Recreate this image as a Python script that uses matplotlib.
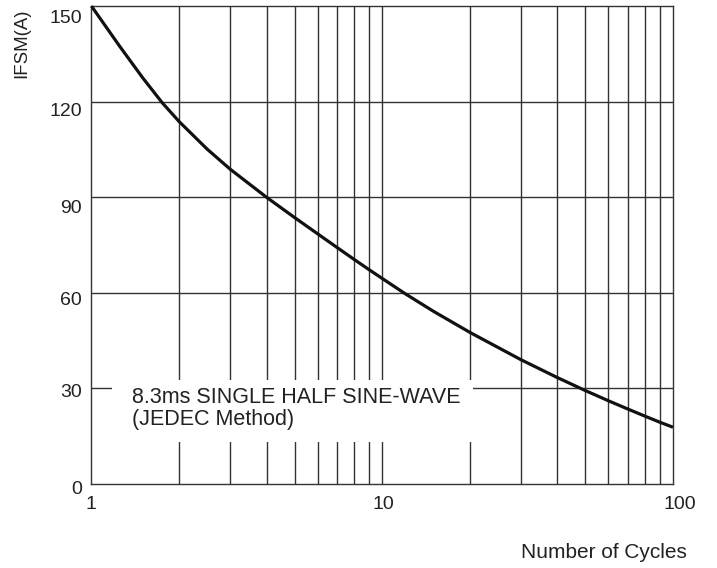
import matplotlib
matplotlib.use("Agg")
import matplotlib.pyplot as plt
import matplotlib.transforms as mtransforms
from matplotlib.patches import Rectangle

plt.rcParams['font.family'] = ['Liberation Sans', 'DejaVu Sans']

cycles = [1, 1.25, 1.5, 1.75, 2, 2.5, 3, 4, 5, 6, 7, 8, 9, 10, 12, 15, 20,
          30, 40, 50, 60, 70, 80, 90, 100]
ifsm = [150, 137.4, 127.5, 119.7, 113.8, 105.1, 98.8, 90.0, 83.6, 78.5, 74.2,
        70.5, 67.3, 64.5, 59.7, 54.2, 47.6, 39.0, 33.4, 29.3, 26.1, 23.5,
        21.3, 19.4, 17.8]

y_ticks = [0, 30, 60, 90, 120, 150]
x_ticks = [1, 10, 100]
x_ticklabels = ["1", "10", "100"]
x_grid = [2, 3, 4, 5, 6, 7, 8, 9, 10, 20, 30, 40, 50, 60, 70, 80, 90]
y_grid = [30, 60, 90, 120]
note = "8.3ms SINGLE HALF SINE-WAVE\n(JEDEC Method)"

grid_c = '#333333'
txt_c = '#222222'
fig = plt.figure(figsize=(7.17, 5.68), dpi=100)
ax = fig.add_axes([0.1276, 0.148, 0.8110, 0.8412])
ax.set_xscale('log')
ax.set_xlim(1, 100)
ax.set_ylim(0, 150)

for g in x_grid:
    ax.axvline(g, color=grid_c, lw=1.0, zorder=1)
for g in y_grid:
    ax.axhline(g, color=grid_c, lw=1.0, zorder=1)

# white box behind the note
ax.add_patch(Rectangle((1.177, 13.2), 20.6 - 1.177, 32.6 - 13.2,
                       facecolor='white', edgecolor='none', zorder=2))
ax.text(1.378, 30.5, note, fontsize=15.5, va='top', ha='left', zorder=3,
        linespacing=1.08, color=txt_c)

ax.plot(cycles, ifsm, color='#111111', lw=2.3, zorder=4, clip_on=False,
        solid_capstyle='butt', solid_joinstyle='round')

for s in ax.spines.values():
    s.set_color(grid_c)
    s.set_linewidth(1.0)

ax.set_yticks(y_ticks)
ax.set_xticks(x_ticks)
ax.set_xticklabels(x_ticklabels)
ax.xaxis.set_minor_locator(matplotlib.ticker.NullLocator())
ax.tick_params(axis='both', length=0, labelsize=14, colors=txt_c)
ax.tick_params(axis='y', pad=7)
ax.tick_params(axis='x', pad=8)

# small per-label offsets (pixels) seen in the original artwork
y_label_shift = [4, 2, 5.5, 9, 8, 10]
for lbl, d in zip(ax.get_yticklabels(), y_label_shift):
    lbl.set_transform(lbl.get_transform() +
                      mtransforms.ScaledTranslation(0, -d / 100, fig.dpi_scale_trans))
x_label_shift = [-1, 1, 7]
for lbl, d in zip(ax.get_xticklabels(), x_label_shift):
    lbl.set_transform(lbl.get_transform() +
                      mtransforms.ScaledTranslation(d / 100, -1 / 100, fig.dpi_scale_trans))

fig.text(0.031, 0.985, "IFSM(A)", rotation=90, va='top', ha='center',
         fontsize=13.4, color=txt_c)
fig.text(0.958, 0.028, "Number of Cycles", ha='right', va='center',
         fontsize=15, color=txt_c)

fig.savefig("out.png", dpi=100)
